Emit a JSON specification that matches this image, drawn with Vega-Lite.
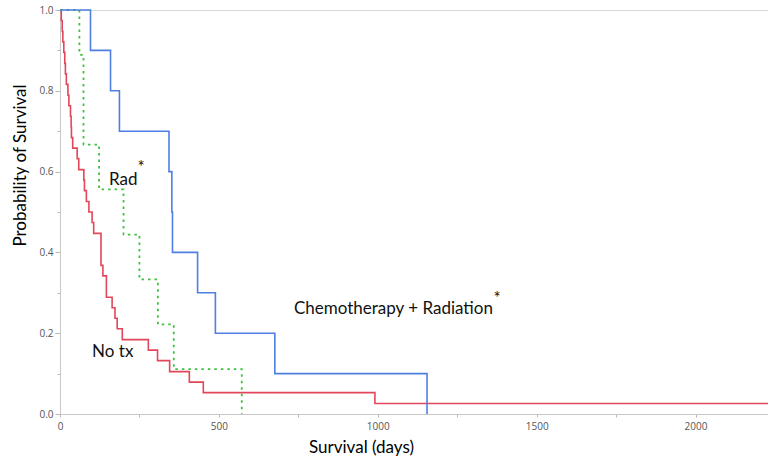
{
  "$schema": "https://vega.github.io/schema/vega-lite/v6.json",
  "width": 708,
  "height": 404,
  "autosize": {"type": "none"},
  "padding": {"left": 60, "top": 10, "right": 0, "bottom": 43},
  "background": "white",
  "config": {"view": {"stroke": "#d8d8d8", "strokeWidth": 1}, "font": "Lato"},
  "datasets": {
    "curves": [
      {"g": "No tx", "t": 0, "s": 1},
      {"g": "No tx", "t": 4, "s": 0.974},
      {"g": "No tx", "t": 7, "s": 0.947},
      {"g": "No tx", "t": 9, "s": 0.921},
      {"g": "No tx", "t": 12, "s": 0.895},
      {"g": "No tx", "t": 15, "s": 0.868},
      {"g": "No tx", "t": 17, "s": 0.842},
      {"g": "No tx", "t": 20, "s": 0.816},
      {"g": "No tx", "t": 25, "s": 0.789},
      {"g": "No tx", "t": 28, "s": 0.763},
      {"g": "No tx", "t": 33, "s": 0.737},
      {"g": "No tx", "t": 35, "s": 0.711},
      {"g": "No tx", "t": 36, "s": 0.684},
      {"g": "No tx", "t": 40, "s": 0.658},
      {"g": "No tx", "t": 54, "s": 0.632},
      {"g": "No tx", "t": 59, "s": 0.605},
      {"g": "No tx", "t": 75, "s": 0.579},
      {"g": "No tx", "t": 77, "s": 0.553},
      {"g": "No tx", "t": 83, "s": 0.526},
      {"g": "No tx", "t": 91, "s": 0.5},
      {"g": "No tx", "t": 101, "s": 0.474},
      {"g": "No tx", "t": 106, "s": 0.447},
      {"g": "No tx", "t": 129, "s": 0.368},
      {"g": "No tx", "t": 135, "s": 0.342},
      {"g": "No tx", "t": 146, "s": 0.289},
      {"g": "No tx", "t": 164, "s": 0.263},
      {"g": "No tx", "t": 173, "s": 0.237},
      {"g": "No tx", "t": 180, "s": 0.211},
      {"g": "No tx", "t": 196, "s": 0.184},
      {"g": "No tx", "t": 278, "s": 0.158},
      {"g": "No tx", "t": 307, "s": 0.132},
      {"g": "No tx", "t": 345, "s": 0.105},
      {"g": "No tx", "t": 407, "s": 0.079},
      {"g": "No tx", "t": 451, "s": 0.053},
      {"g": "No tx", "t": 991, "s": 0.026},
      {"g": "No tx", "t": 2228, "s": 0.026},
      {"g": "Rad", "t": 0, "s": 1},
      {"g": "Rad", "t": 61, "s": 0.889},
      {"g": "Rad", "t": 74, "s": 0.667},
      {"g": "Rad", "t": 123, "s": 0.556},
      {"g": "Rad", "t": 200, "s": 0.444},
      {"g": "Rad", "t": 250, "s": 0.333},
      {"g": "Rad", "t": 308, "s": 0.222},
      {"g": "Rad", "t": 358, "s": 0.111},
      {"g": "Rad", "t": 572, "s": 0},
      {"g": "Chemo", "t": 0, "s": 1},
      {"g": "Chemo", "t": 96, "s": 0.9},
      {"g": "Chemo", "t": 159, "s": 0.8},
      {"g": "Chemo", "t": 187, "s": 0.7},
      {"g": "Chemo", "t": 343, "s": 0.6},
      {"g": "Chemo", "t": 352, "s": 0.5},
      {"g": "Chemo", "t": 354, "s": 0.4},
      {"g": "Chemo", "t": 433, "s": 0.3},
      {"g": "Chemo", "t": 489, "s": 0.2},
      {"g": "Chemo", "t": 676, "s": 0.1},
      {"g": "Chemo", "t": 1155, "s": 0}
    ],
    "labels": [
      {"label": "Rad", "t": 154, "s": 0.566},
      {"label": "No tx", "t": 101, "s": 0.141},
      {"label": "Chemotherapy + Radiation", "t": 736, "s": 0.247}
    ],
    "stars": [
      {"label": "*", "t": 244, "s": 0.596},
      {"label": "*", "t": 1364, "s": 0.2715}
    ]
  },
  "encoding": {
    "x": {
      "field": "t",
      "type": "quantitative",
      "scale": {"domain": [0, 2228], "nice": false, "zero": false},
      "axis": {
        "title": "Survival (days)",
        "values": [0, 250, 500, 750, 1000, 1250, 1500, 1750, 2000],
        "format": "d",
        "labelExpr": "datum.value % 500 == 0 ? datum.label : ''",
        "grid": false,
        "labelFlush": false,
        "labelOverlap": false,
        "domainColor": "#c8c8c8",
        "tickColor": "#b8b8b8",
        "tickSize": 3,
        "labelFontSize": 10,
        "labelFont": "Open Sans",
        "labelColor": "#555555",
        "labelPadding": 4,
        "titleFont": "Lato",
        "titleFontSize": 17,
        "titleFontWeight": "normal",
        "titleColor": "#000000",
        "titleX": 301,
        "titleY": 38,
        "titleAlign": "center",
        "titleBaseline": "alphabetic"
      }
    },
    "y": {
      "field": "s",
      "type": "quantitative",
      "scale": {"domain": [0, 1], "nice": false},
      "axis": {
        "title": "Probability of Survival",
        "values": [0, 0.1, 0.2, 0.3, 0.4, 0.5, 0.6, 0.7, 0.8, 0.9, 1],
        "labelExpr": "round(datum.value*10) % 2 == 0 ? format(datum.value, '.1f') : ''",
        "grid": false,
        "labelFlush": false,
        "labelOverlap": false,
        "domainColor": "#c8c8c8",
        "tickColor": "#b8b8b8",
        "tickSize": {"condition": {"test": "round(datum.value*10) % 2 == 0", "value": 5}, "value": 3},
        "labelFontSize": 10,
        "labelFont": "Open Sans",
        "labelColor": "#555555",
        "labelPadding": 2,
        "titleFont": "Lato",
        "titleFontSize": 17,
        "titleFontWeight": "normal",
        "titleColor": "#000000",
        "titleAngle": 270,
        "titleX": -35,
        "titleY": 155,
        "titleAlign": "center",
        "titleBaseline": "alphabetic"
      }
    }
  },
  "layer": [
    {
      "data": {"name": "curves"},
      "transform": [{"filter": "datum.g == 'No tx'"}],
      "mark": {"type": "line", "interpolate": "step-after", "color": "#e2465a", "strokeWidth": 1.6}
    },
    {
      "data": {"name": "curves"},
      "transform": [{"filter": "datum.g == 'Rad'"}],
      "mark": {"type": "line", "interpolate": "step-after", "color": "#3fc03f", "strokeWidth": 1.8, "strokeDash": [2.5, 4]}
    },
    {
      "data": {"name": "curves"},
      "transform": [{"filter": "datum.g == 'Chemo'"}],
      "mark": {"type": "line", "interpolate": "step-after", "color": "#4f7fe2", "strokeWidth": 1.6}
    },
    {
      "data": {"name": "labels"},
      "mark": {"type": "text", "align": "left", "baseline": "alphabetic", "font": "Lato", "fontSize": 17, "color": "#111111"},
      "encoding": {"text": {"field": "label"}}
    },
    {
      "data": {"name": "stars"},
      "mark": {"type": "text", "align": "left", "baseline": "alphabetic", "font": "Lato", "fontSize": 17, "color": "#111111"},
      "encoding": {"text": {"field": "label"}}
    }
  ]
}
